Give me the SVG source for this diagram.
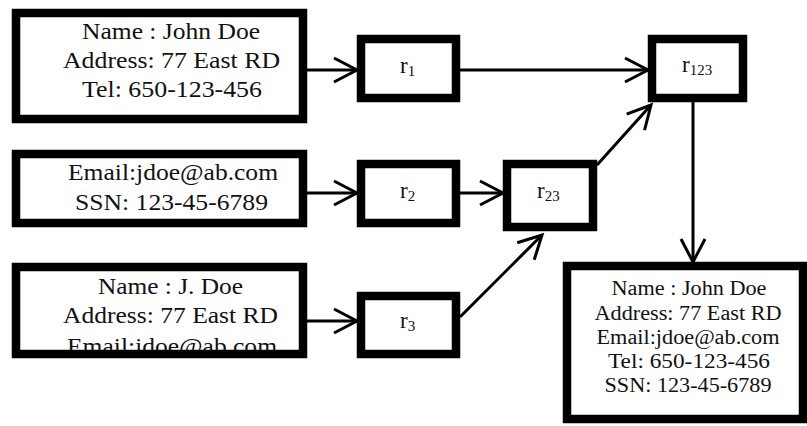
<svg xmlns="http://www.w3.org/2000/svg" width="807" height="426" viewBox="0 0 807 426">
<style>
.box{fill:#fff;stroke:#000;stroke-width:8.5}
.t{font-family:"Liberation Serif","Times New Roman",serif;fill:#111;text-anchor:middle}
.big{font-size:24px}
.sm{font-size:20px}
.lbl{font-family:"Liberation Serif","Times New Roman",serif;fill:#111;font-size:23px}
.sub{font-size:15px}
.c{fill:none;stroke:#000;stroke-width:3}
</style>
<defs>
<marker id="ah" markerUnits="userSpaceOnUse" viewBox="-26 -15 30 30" markerWidth="30" markerHeight="30" refX="0" refY="0" orient="auto" overflow="visible">
<path d="M-23,-12 L0,0 L-23,12" fill="none" stroke="#000" stroke-width="3"/>
</marker>
<clipPath id="clip3"><rect x="20" y="271" width="280" height="80"/></clipPath>
</defs>
<rect width="807" height="426" fill="#fff"/>
<g id="connectors">
<line class="c" x1="307" y1="70" x2="357" y2="70" marker-end="url(#ah)"/>
<line class="c" x1="460" y1="70" x2="648" y2="70" marker-end="url(#ah)"/>
<line class="c" x1="307" y1="193" x2="357" y2="193" marker-end="url(#ah)"/>
<line class="c" x1="460" y1="193" x2="503" y2="193" marker-end="url(#ah)"/>
<line class="c" x1="307" y1="321" x2="357" y2="321" marker-end="url(#ah)"/>
<line class="c" x1="597" y1="165" x2="651" y2="105" marker-end="url(#ah)"/>
<line class="c" x1="460" y1="317" x2="542" y2="235" marker-end="url(#ah)"/>
<line class="c" x1="693" y1="102" x2="693" y2="262" marker-end="url(#ah)"/>
</g>
<g id="box1">
<rect class="box" x="16" y="13" width="287" height="106"/>
<text class="t big" x="171" y="39" textLength="178" lengthAdjust="spacingAndGlyphs">Name : John Doe</text>
<text class="t big" x="171.5" y="68" textLength="217" lengthAdjust="spacingAndGlyphs">Address: 77 East RD</text>
<text class="t big" x="172" y="97" textLength="180" lengthAdjust="spacingAndGlyphs">Tel: 650-123-456</text>
</g>
<g id="box2">
<rect class="box" x="16" y="154" width="287" height="69"/>
<text class="t big" x="173" y="180" textLength="210" lengthAdjust="spacingAndGlyphs">Email:jdoe@ab.com</text>
<text class="t big" x="171.5" y="210" textLength="193" lengthAdjust="spacingAndGlyphs">SSN: 123-45-6789</text>
</g>
<g id="box3">
<rect class="box" x="16" y="267" width="287" height="87"/>
<g clip-path="url(#clip3)">
<text class="t big" x="170.5" y="294" textLength="145" lengthAdjust="spacingAndGlyphs">Name : J. Doe</text>
<text class="t big" x="170.5" y="323" textLength="215" lengthAdjust="spacingAndGlyphs">Address: 77 East RD</text>
<text class="t big" x="172" y="354" textLength="210" lengthAdjust="spacingAndGlyphs">Email:jdoe@ab.com</text>
</g>
</g>
<g id="r1">
<rect class="box" x="361" y="39" width="95" height="59"/>
<text class="lbl" x="400" y="73">r<tspan class="sub" dy="3">1</tspan></text>
</g>
<g id="r2">
<rect class="box" x="361" y="164" width="95" height="59"/>
<text class="lbl" x="400" y="198">r<tspan class="sub" dy="3">2</tspan></text>
</g>
<g id="r3">
<rect class="box" x="361" y="296" width="95" height="58"/>
<text class="lbl" x="400" y="328">r<tspan class="sub" dy="3">3</tspan></text>
</g>
<g id="r23">
<rect class="box" x="507" y="164" width="86" height="63"/>
<text class="lbl" x="537" y="198">r<tspan class="sub" dy="3">23</tspan></text>
</g>
<g id="r123">
<rect class="box" x="652" y="39" width="91" height="59"/>
<text class="lbl" x="682" y="72">r<tspan class="sub" dy="3">123</tspan></text>
</g>
<g id="merged">
<rect class="box" x="567" y="266" width="236" height="153"/>
<text class="t sm" x="689" y="295" textLength="155" lengthAdjust="spacingAndGlyphs">Name : John Doe</text>
<text class="t sm" x="688" y="320" textLength="187" lengthAdjust="spacingAndGlyphs">Address: 77 East RD</text>
<text class="t sm" x="688" y="344" textLength="183" lengthAdjust="spacingAndGlyphs">Email:jdoe@ab.com</text>
<text class="t sm" x="689" y="368" textLength="162" lengthAdjust="spacingAndGlyphs">Tel: 650-123-456</text>
<text class="t sm" x="688" y="392" textLength="167" lengthAdjust="spacingAndGlyphs">SSN: 123-45-6789</text>
</g>
</svg>
